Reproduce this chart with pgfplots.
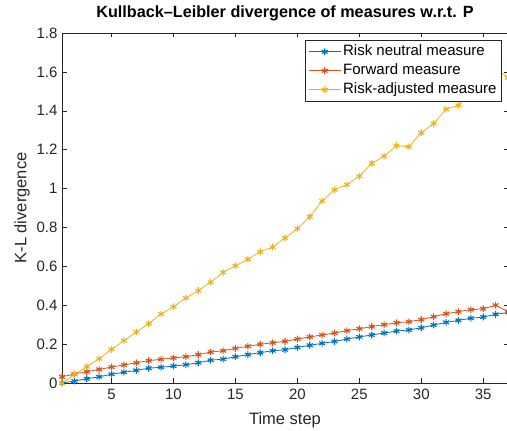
\documentclass[border=0pt]{standalone}
\usepackage{fontspec}
\setmainfont{Liberation Sans}
\usepackage{pgfplots}
\pgfplotsset{compat=1.18}
\definecolor{mblue}{rgb}{0,0.447,0.741}
\definecolor{morange}{rgb}{0.85,0.325,0.098}
\definecolor{myellow}{rgb}{0.929,0.694,0.125}
\definecolor{axgray}{rgb}{0.15,0.15,0.15}
\begin{document}
\begin{tikzpicture}
\useasboundingbox (-62bp,-48bp) rectangle (445bp,383bp);
\begin{axis}[
  at={(0,0)}, anchor=south west,
  scale only axis,
  width=446bp, height=350bp,
  xmin=1, xmax=37, ymin=0, ymax=1.8,
  xtick={5,10,...,35},
  ytick={0,0.2,...,1.8},
  yticklabels={0,0.2,0.4,0.6,0.8,1,1.2,1.4,1.6,1.8},
  tick align=inside,
  major tick length=4.5bp,
  axis line style={axgray, line width=0.5bp},
  tick style={axgray, line width=0.5bp},
  every tick label/.append style={font=\fontsize{15bp}{18bp}\selectfont, text=axgray},
  /pgf/number format/assume math mode=true,
  xticklabel style={yshift=-3bp},
  yticklabel style={xshift=-1bp},
  title={Kullback–Leibler divergence of measures w.r.t. P},
  title style={font=\bfseries\fontsize{16.2bp}{20bp}\selectfont, yshift=3bp},
  xlabel={Time step},
  ylabel={K-L divergence},
  label style={font=\fontsize{16.5bp}{20bp}\selectfont, text=axgray},
  xlabel style={yshift=-6bp},
  ylabel style={yshift=0bp},
  legend style={at={(0.545,0.98)}, anchor=north west, draw=axgray, line width=0.5bp,
    fill=white,
    font=\fontsize{15bp}{18bp}\selectfont, inner xsep=3bp, inner ysep=2bp,
    row sep=0bp, cells={anchor=west},
    nodes={text height=11bp, text depth=3bp, inner ysep=2.5bp, inner xsep=2bp}},
  legend cell align=left,
  legend image code/.code={\draw[mark repeat=2,mark phase=2] plot coordinates {(0bp,0bp) (16bp,0bp) (32bp,0bp)};},
  every axis plot/.append style={line width=0.8bp, mark=asterisk, mark size=3.4bp, mark options={line width=1.1bp}},
]
\addplot[mblue] coordinates {
(1,0) (2,0.010) (3,0.022) (4,0.032) (5,0.045) (6,0.055) (7,0.065) (8,0.076) (9,0.081) (10,0.087)
(11,0.094) (12,0.104) (13,0.117) (14,0.123) (15,0.135) (16,0.146) (17,0.156) (18,0.166) (19,0.171) (20,0.183)
(21,0.194) (22,0.204) (23,0.214) (24,0.226) (25,0.237) (26,0.247) (27,0.257) (28,0.267) (29,0.273) (30,0.284)
(31,0.298) (32,0.312) (33,0.322) (34,0.333) (35,0.339) (36,0.353) (37,0.363)};
\addlegendentry{Risk neutral measure}
\addplot[morange] coordinates {
(1,0.032) (2,0.046) (3,0.058) (4,0.070) (5,0.082) (6,0.093) (7,0.104) (8,0.115) (9,0.122) (10,0.129)
(11,0.135) (12,0.146) (13,0.159) (14,0.166) (15,0.178) (16,0.189) (17,0.199) (18,0.207) (19,0.214) (20,0.226)
(21,0.237) (22,0.247) (23,0.257) (24,0.269) (25,0.279) (26,0.290) (27,0.300) (28,0.310) (29,0.315) (30,0.326)
(31,0.341) (32,0.356) (33,0.367) (34,0.377) (35,0.382) (36,0.400) (37,0.367)};
\addlegendentry{Forward measure}
\addplot[myellow] coordinates {
(1,0) (2,0.043) (3,0.084) (4,0.125) (5,0.173) (6,0.218) (7,0.262) (8,0.305) (9,0.355) (10,0.392)
(11,0.437) (12,0.475) (13,0.518) (14,0.569) (15,0.603) (16,0.636) (17,0.675) (18,0.699) (19,0.746) (20,0.794)
(21,0.855) (22,0.936) (23,0.994) (24,1.020) (25,1.063) (26,1.130) (27,1.166) (28,1.221) (29,1.215) (30,1.287)
(31,1.334) (32,1.408) (33,1.428) (34,1.50) (35,1.55) (36,1.62) (37,1.57)};
\addlegendentry{Risk-adjusted measure}
\end{axis}
\end{tikzpicture}
\end{document}
